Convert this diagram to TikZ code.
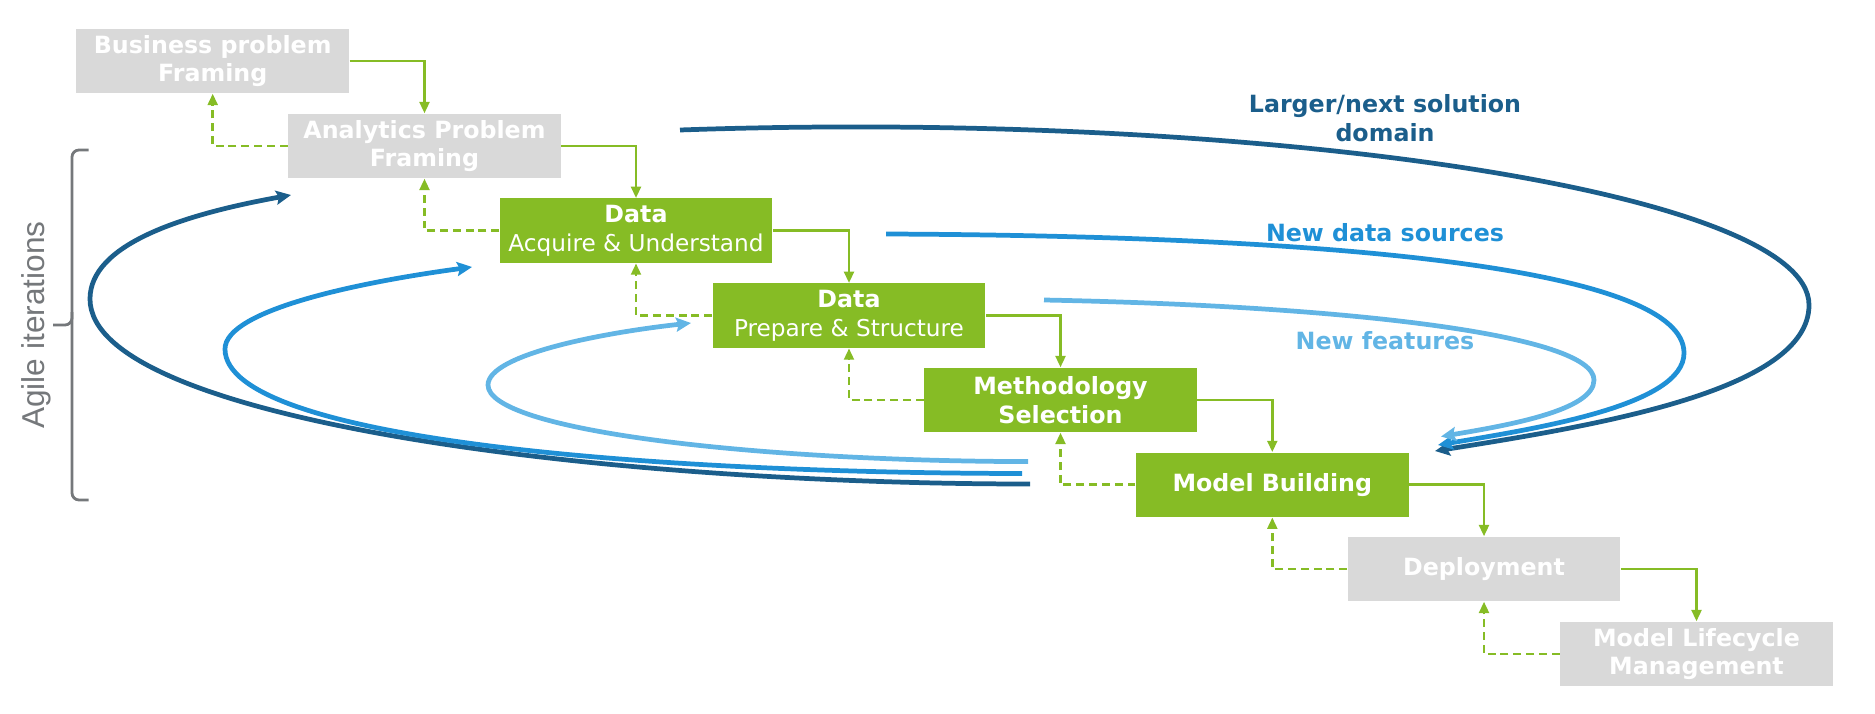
\documentclass[tikz,border=0pt]{standalone}
\usepackage{fontspec}
\setmainfont{DejaVu Sans}
\newfontfamily\agilefont{Liberation Sans}
\usetikzlibrary{arrows.meta}

\definecolor{dgreen}{HTML}{86BC25}
\definecolor{lgray}{HTML}{D9D9D9}
\definecolor{dblue}{HTML}{1B5E8B}
\definecolor{mblue}{HTML}{1F90D6}
\definecolor{lblue}{HTML}{62B5E5}
\definecolor{bgray}{HTML}{75787B}
\newcommand{\boxfont}{\fontsize{13.5}{16.3}\selectfont\bfseries}
\newcommand{\subfont}{\fontsize{13.2}{16.3}\selectfont\mdseries}

\begin{document}
\begin{tikzpicture}[x=0.02cm, y=-0.02cm, >=Stealth,
  stage/.style={rectangle, minimum width=5.46cm, minimum height=1.29cm, inner sep=1pt, align=center, text=white, font=\boxfont},
  active/.style={stage, fill=dgreen},
  idle/.style={stage, fill=lgray},
  fwd/.style={draw=dgreen, line width=1.6pt, -{Triangle[length=6.5pt,width=5.5pt]}},
  bwd/.style={fwd, dash pattern=on 4.5pt off 2.8pt},
  spiral/.style={line width=2.7pt, -{Stealth[length=8.5pt,width=8pt,inset=1.5pt]}},
  brace/.style={draw=bgray, line width=1.6pt, rounded corners=4pt}]
\useasboundingbox (0,0) rectangle (1875,713);

\node[idle] (bus) at (212.7,61) {Business problem\\Framing};
\node[idle] (ana) at (424.5,146) {Analytics Problem\\Framing};
\node[active] (acq) at (636,230.7) {Data\\{\subfont Acquire \& Understand}};
\node[active] (prep) at (849,315.7) {Data\\{\subfont Prepare \& Structure}};
\node[active] (meth) at (1060.5,400) {Methodology\\Selection};
\node[active] (mod) at (1272.3,484.8) {Model Building};
\node[idle] (dep) at (1484,569) {Deployment};
\node[idle] (mlm) at (1696.5,654) {Model Lifecycle\\Management};

\draw[fwd] (bus.east) -| (ana.north);
\draw[fwd] (ana.east) -| (acq.north);
\draw[fwd] (acq.east) -| (prep.north);
\draw[fwd] (prep.east) -| (meth.north);
\draw[fwd] (meth.east) -| (mod.north);
\draw[fwd] (mod.east) -| (dep.north);
\draw[fwd] (dep.east) -| (mlm.north);

\draw[bwd] (ana.west) -| (bus.south);
\draw[bwd] (acq.west) -| (ana.south);
\draw[bwd] (prep.west) -| (acq.south);
\draw[bwd] (meth.west) -| (prep.south);
\draw[bwd] (mod.west) -| (meth.south);
\draw[bwd] (dep.west) -| (mod.south);
\draw[bwd] (mlm.west) -| (dep.south);

\coordinate (dR0) at (680,130);
\coordinate (dR1) at (1809,305);
\coordinate (dR2) at (1435,451);
\coordinate (dL0) at (1030,484);
\coordinate (dL1) at (90,299);
\coordinate (dL2) at (291,195);
\coordinate (mR0) at (886,234);
\coordinate (mR1) at (1684,353);
\coordinate (mR2) at (1438,445);
\coordinate (mL0) at (1022,473.5);
\coordinate (mL1) at (225,349);
\coordinate (mL2) at (472,267);
\coordinate (lR0) at (1044,300);
\coordinate (lR1) at (1594,380);
\coordinate (lR2) at (1441,436.5);
\coordinate (lL0) at (1028,461.6);
\coordinate (lL1) at (488,385);
\coordinate (lL2) at (691,323);

\draw[spiral, dblue] (dR0) .. controls (1250,110) and (1809,190) .. (dR1) .. controls (1809,390) and (1600,425) .. (dR2);
\draw[spiral, dblue] (dL0) .. controls (600,484) and (90,420) .. (dL1) .. controls (90,245) and (180,215) .. (dL2);
\draw[spiral, mblue] (mR0) .. controls (1350,236) and (1684,270) .. (mR1) .. controls (1684,405) and (1540,428) .. (mR2);
\draw[spiral, mblue] (mL0) .. controls (650,473) and (225,440) .. (mL1) .. controls (225,310) and (360,282) .. (mL2);
\draw[spiral, lblue] (lR0) .. controls (1350,306) and (1594,335) .. (lR1) .. controls (1594,410) and (1510,425) .. (lR2);
\draw[spiral, lblue] (lL0) .. controls (750,461) and (488,430) .. (lL1) .. controls (488,355) and (600,333) .. (lL2);

\node[text=dblue, font=\boxfont, align=center] (dom) at (1385,118) {Larger/next solution\\domain};
\node[text=mblue, font=\boxfont] (src) at (1385,233) {New data sources};
\node[text=lblue, font=\boxfont] (feat) at (1385,341) {New features};

\draw[brace] (88.5,150) -- (72,150) -- (72,500) -- (88.5,500);
\draw[brace] (72,312) |- (53,325);
\node[rotate=90, text=bgray, font=\agilefont\fontsize{18}{20}\selectfont] (agile) at (36,325) {Agile iterations};
\end{tikzpicture}
\end{document}
